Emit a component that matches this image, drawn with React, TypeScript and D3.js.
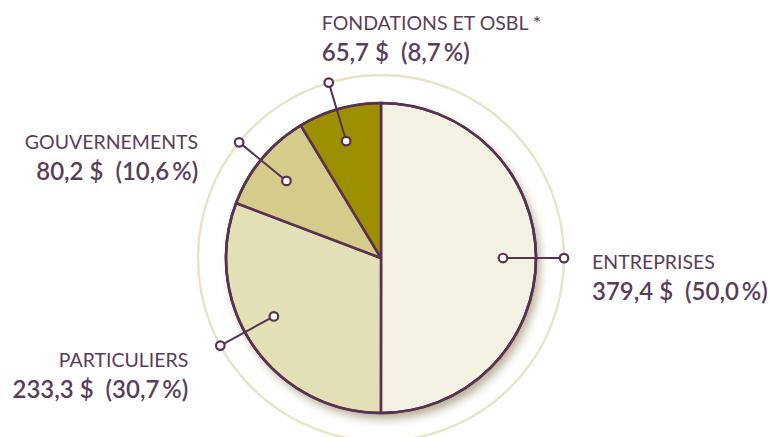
import React from "react";
import * as d3 from "d3";

const categories = ["ENTREPRISES", "PARTICULIERS", "GOUVERNEMENTS", "FONDATIONS ET OSBL *"];
const amounts = [379.4, 233.3, 80.2, 65.7];
const percents = [50.0, 30.7, 10.6, 8.7];

const colors = ["#f3f1e1", "#e3dfb6", "#d5cb8b", "#9c8f00"];
const INK = "#583250";
const TEXT = "#5a3d57";

// label layout relative to outer leader dot
const labelLayout = [
  { anchor: "start", dx: 28, dy: 11, angleAdj: 0 },
  { anchor: "end", dx: -32, dy: 21, angleAdj: 6 },
  { anchor: "end", dx: -41, dy: 7, angleAdj: -0.6 },
  { anchor: "start", dx: -7, dy: -53, angleAdj: -1 },
];

const W = 771, H = 437;
const cx = 381, cy = 258;
const R = 155;
const ringR = 183;
const innerDotR = 122;
const outerDotR = 183;

const fmt = (v: number) => d3.format(".1f")(v).replace(".", ",");

export default function App() {
  const pie = d3.pie<number>().sort(null).value((d) => d);
  const arcs = pie(amounts);
  const arcGen = d3.arc<d3.PieArcDatum<number>>().innerRadius(0).outerRadius(R);

  return (
    <svg width={W} height={H} style={{ position: "fixed", left: 0, top: 0, background: "#fff" }}>
      <defs>
        <filter id="sh" x="-20%" y="-20%" width="140%" height="140%">
          <feDropShadow dx="4" dy="6" stdDeviation="5" floodColor="#7a6a3a" floodOpacity="0.55" />
        </filter>
      </defs>
      <circle cx={cx} cy={cy} r={ringR} fill="none" stroke="#e8e5c7" strokeWidth={2.5} />
      <g transform={`translate(${cx},${cy})`}>
        <circle r={R} fill="#f3f1e1" filter="url(#sh)" />
        {arcs.map((a, i) => (
          <path key={i} d={arcGen(a) || ""} fill={colors[i]} stroke={INK} strokeWidth={2.6} strokeLinejoin="round" />
        ))}
        <circle r={R} fill="none" stroke={INK} strokeWidth={2.6} />
      </g>
      {arcs.map((a, i) => {
        const L = labelLayout[i];
        const ang = (a.startAngle + a.endAngle) / 2 + (L.angleAdj * Math.PI) / 180;
        const x1 = cx + innerDotR * Math.sin(ang);
        const y1 = cy - innerDotR * Math.cos(ang);
        const x2 = cx + outerDotR * Math.sin(ang);
        const y2 = cy - outerDotR * Math.cos(ang);
        const tx = x2 + L.dx;
        const ty = y2 + L.dy;
        return (
          <g key={i}>
            <line x1={x1} y1={y1} x2={x2} y2={y2} stroke={INK} strokeWidth={2} />
            <circle cx={x1} cy={y1} r={4.3} fill="#fff" stroke={INK} strokeWidth={2.2} />
            <circle cx={x2} cy={y2} r={4.3} fill="#fff" stroke={INK} strokeWidth={2.2} />
            <text x={tx} y={ty} textAnchor={L.anchor as any} fill={TEXT}
              style={{ fontFamily: "Lato", fontSize: 19.5, fontWeight: 400 }}>
              {categories[i]}
            </text>
            <text x={tx} y={ty + 31} textAnchor={L.anchor as any} fill={TEXT}
              style={{ fontFamily: "Lato", fontSize: 24, fontWeight: 600, whiteSpace: "pre" }}>
              {`${fmt(amounts[i])}\u00A0$\u00A0\u00A0(${fmt(percents[i])}\u2009%)`}
            </text>
          </g>
        );
      })}
    </svg>
  );
}
